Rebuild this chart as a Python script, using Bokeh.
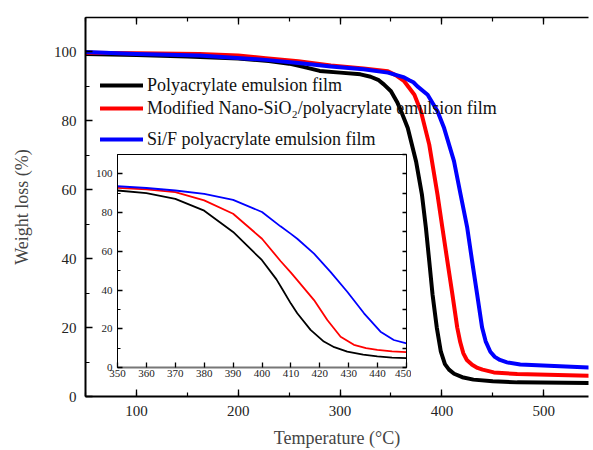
from bokeh.plotting import figure
from bokeh.models import Range1d, LinearAxis, SingleIntervalTicker, Legend, LegendItem, CustomJSTickFormatter
from bokeh.layouts import column
from bokeh.embed import file_html
from bokeh.resources import INLINE

FONT = "Liberation Serif"

# ---------------- data ----------------
series_names = ["Polyacrylate emulsion film",
                "Modified Nano-SiO\u2082/polyacrylate emulsion film",
                "Si/F polyacrylate emulsion film"]
series_colors = ["#000000", "#ff0000", "#0000ff"]

# main plot: temperature (°C) vs weight loss (%)
black_T = [50, 100, 150, 200, 230, 250, 265, 280, 300, 320, 330, 338, 343, 350, 356, 360,
           366.5, 374.6, 380.4, 384.3, 387.6, 390.8, 395, 399, 403, 407, 412, 420, 431, 450, 474, 544]
black_w = [99.4, 99.1, 98.7, 98.1, 97.4, 96.6, 95.6, 94.5, 94.0, 93.5, 92.8, 91.8, 90.6, 88.6, 85.5, 82.8,
           77.9, 68.3, 58.6, 49.0, 39.3, 29.7, 20.0, 13.0, 9.4, 7.8, 6.6, 5.6, 4.9, 4.4, 4.1, 3.9]

red_T = [50, 100, 162, 200, 227, 259, 291, 323, 347, 355, 363, 373, 379.4, 387.6, 395.7, 400.5,
         405.4, 410.3, 415.1, 418, 421, 424.5, 429.7, 435, 440, 451, 474, 544]
red_w = [99.8, 99.6, 99.4, 99.0, 98.2, 97.3, 96.1, 95.2, 94.4, 93.2, 91.5, 87.6, 82.8, 73.1, 58.6, 49.0,
         39.3, 29.7, 20.0, 15.8, 12.6, 10.6, 9.2, 8.3, 7.8, 7.0, 6.5, 6.0]

blue_T = [50, 100, 162, 227, 259, 291, 323, 347, 363, 368, 372, 376, 386, 395.7, 402.2, 411.9,
          418.4, 424.9, 429.7, 434.6, 439.5, 443, 447.6, 452, 457, 464, 477, 544]
blue_w = [100.0, 99.4, 99.0, 97.7, 96.8, 95.8, 95.0, 94.0, 92.6, 91.8, 91.2, 90.0, 87.6, 82.8, 77.9, 68.3,
          58.6, 49.0, 39.3, 29.7, 20.0, 16.0, 13.0, 11.5, 10.6, 9.9, 9.3, 8.4]

# inset: 350-450 °C
in_black_T = [350, 360, 370, 380, 390, 400, 405, 407, 410, 412.2, 416.8, 421.4, 425, 429.5, 435, 439.9, 445, 450]
in_black_w = [91.4, 90.0, 87.1, 81.0, 70.0, 55.4, 45.5, 40.5, 33.0, 28.0, 19.4, 13.4, 10.5, 8.2, 6.6, 5.7, 5.1, 4.8]

in_red_T = [350, 360, 370, 380, 390, 400, 406.4, 410, 412.2, 418, 422.6, 427.2, 431.8, 436, 439.9, 445, 450]
in_red_w = [92.8, 92.0, 90.6, 86.3, 79.4, 66.5, 55.0, 49.0, 45.1, 34.8, 24.5, 15.9, 11.7, 10.0, 9.1, 8.3, 7.9]

in_blue_T = [350, 360, 370, 380, 390, 400, 406.4, 410, 412.2, 418, 423.7, 429.5, 435.3, 441, 445.6, 450]
in_blue_w = [93.6, 92.7, 91.4, 89.7, 86.6, 80.3, 72.9, 69.0, 66.5, 58.8, 49.4, 39.1, 28.0, 18.5, 14.2, 12.5]

x_label = "Temperature (\u00b0C)"
y_label = "Weight loss (%)"

blank = CustomJSTickFormatter(code="return ''")


def style_axis(ax, size, line_width=1.5, major_in=7, minor_in=4, color="black"):
    ax.major_label_text_font = FONT
    ax.major_label_text_font_size = size
    ax.major_label_text_color = "#222222"
    ax.axis_line_width = line_width
    ax.axis_line_color = color
    ax.major_tick_in = major_in
    ax.major_tick_out = 0
    ax.minor_tick_in = minor_in
    ax.minor_tick_out = 0
    ax.major_tick_line_width = 1.3
    ax.minor_tick_line_width = 1.2


# ---------------- main figure ----------------
p = figure(width=593, height=450, x_range=Range1d(50, 544), y_range=Range1d(0, 110),
           output_backend="svg", toolbar_location=None,
           min_border_left=85, min_border_right=0, min_border_top=17, min_border_bottom=54,
           x_axis_type=None, y_axis_type=None)
p.outline_line_color = None
p.background_fill_color = "white"
p.border_fill_color = "white"

xax = LinearAxis(ticker=SingleIntervalTicker(interval=100, num_minor_ticks=2))
style_axis(xax, "15px", line_width=2)
xax.major_label_standoff = 9
xax.axis_label = x_label
xax.axis_label_text_font = FONT
xax.axis_label_text_font_size = "18px"
xax.axis_label_text_font_style = "normal"
xax.axis_label_standoff = 9
p.add_layout(xax, "below")

yax = LinearAxis(ticker=SingleIntervalTicker(interval=20, num_minor_ticks=2))
style_axis(yax, "15px", line_width=2)
yax.major_label_standoff = 9
yax.axis_label = y_label
yax.axis_label_text_font = FONT
yax.axis_label_text_font_size = "18px"
yax.axis_label_text_font_style = "normal"
yax.axis_label_standoff = 19
p.add_layout(yax, "left")

top = LinearAxis(ticker=SingleIntervalTicker(interval=100, num_minor_ticks=2), formatter=blank)
style_axis(top, "1px", line_width=1.5)
top.major_label_standoff = 0
p.add_layout(top, "above")

renderers = []
for T, w, c in [(black_T, black_w, series_colors[0]), (red_T, red_w, series_colors[1]),
                (blue_T, blue_w, series_colors[2])]:
    r = p.line(T, w, line_color=c, line_width=4, line_join="round", line_cap="round")
    renderers.append(r)

legend_vy = [298.7, 275.6, 244.7]
for name, r, vy in zip(series_names, renderers, legend_vy):
    lg = Legend(items=[LegendItem(label=name, renderers=[r])], location=(15, vy),
                padding=0, margin=0, spacing=0, border_line_color=None,
                background_fill_alpha=0, glyph_width=43, glyph_height=24, label_height=24,
                label_standoff=4, label_text_font=FONT, label_text_font_size="18px",
                label_text_color="#111111")
    p.add_layout(lg, "center")

# ---------------- inset figure ----------------
ins = figure(width=85 + 289 + 5, height=5 + 213 + 20,
             x_range=Range1d(350, 450), y_range=Range1d(0, 110),
             output_backend="svg", toolbar_location=None,
             min_border_left=85, min_border_right=5, min_border_top=5, min_border_bottom=20,
             x_axis_type=None, y_axis_type=None,
             background_fill_alpha=0, border_fill_alpha=0,
             styles={"position": "absolute", "left": "32px", "top": "149px"})
ins.outline_line_color = "black"
ins.outline_line_width = 1
ins.grid.visible = False

ixa = LinearAxis(ticker=SingleIntervalTicker(interval=10, num_minor_ticks=0))
style_axis(ixa, "11px", line_width=2, major_in=5, minor_in=0, color="#777777")
ixa.major_tick_line_color = "black"
ixa.major_label_standoff = 2
ins.add_layout(ixa, "below")

iya = LinearAxis(ticker=SingleIntervalTicker(interval=20, num_minor_ticks=2))
style_axis(iya, "11px", line_width=1, major_in=5, minor_in=3)
iya.major_label_standoff = 5
ins.add_layout(iya, "left")

iyr = LinearAxis(ticker=SingleIntervalTicker(interval=10, num_minor_ticks=0), formatter=blank)
style_axis(iyr, "1px", line_width=1, major_in=4, minor_in=0)
iyr.major_label_standoff = 0
ins.add_layout(iyr, "right")

for T, w, c in [(in_black_T, in_black_w, series_colors[0]), (in_red_T, in_red_w, series_colors[1]),
                (in_blue_T, in_blue_w, series_colors[2])]:
    ins.line(T, w, line_color=c, line_width=1.8, line_join="round")

layout = column(p, ins)
open("out.html", "w").write(file_html(layout, INLINE))
